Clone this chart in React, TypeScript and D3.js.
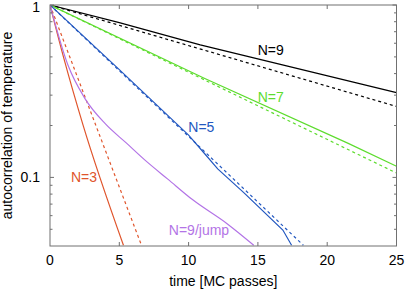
import React from "react";
import * as d3 from "d3";

// ---- data (x: MC passes, y: autocorrelation) ----
const n9Solid: [number, number][] = [[0, 1], [5, 0.79], [10.84, 0.587], [25, 0.31]];
const n9Dashed: [number, number][] = [[0, 1], [25, 0.258]];
const n7Solid: [number, number][] = [[0, 1], [11.13, 0.376], [21.48, 0.158], [25, 0.116]];
const n7Dashed: [number, number][] = [[0, 1], [25, 0.106]];
const n5Solid: [number, number][] = [[0, 1], [5, 0.422], [10, 0.176], [11.1, 0.139], [12.1, 0.112], [14, 0.0813], [16.8, 0.0495], [17.43, 0.0404]];
const n5Dashed: [number, number][] = [[0, 1], [18.28, 0.0404]];
const n3Solid: [number, number][] = [[0, 1], [1, 0.49], [2.38, 0.2018], [5.3, 0.0404]];
const n3Dashed: [number, number][] = [[0, 1], [6.6, 0.0404]];
const jump: [number, number][] = [[0, 1], [1.3, 0.4467], [2.5, 0.2884], [4, 0.2042], [5.5, 0.1585], [7, 0.123], [8.5, 0.0977], [10.3, 0.0741], [12.8, 0.0537], [14.7, 0.0404]];

const xTicks = [0, 5, 10, 15, 20, 25];
const yMajor = [1, 0.1];
const yMinor = [0.05, 0.06, 0.07, 0.08, 0.09, 0.2, 0.3, 0.4, 0.5, 0.6, 0.7, 0.8, 0.9];

const BLACK = "#000000";
const GREEN = "#5ddc2e";
const BLUE = "#2358c0";
const RED = "#e0552c";
const PURPLE = "#b374e6";

const series = [
  { d: n9Solid, c: BLACK, dash: false, smooth: false },
  { d: n9Dashed, c: BLACK, dash: true, smooth: false },
  { d: n7Solid, c: GREEN, dash: false, smooth: false },
  { d: n7Dashed, c: GREEN, dash: true, smooth: false },
  { d: n5Solid, c: BLUE, dash: false, smooth: false },
  { d: n5Dashed, c: BLUE, dash: true, smooth: false },
  { d: n3Solid, c: RED, dash: false, smooth: true },
  { d: n3Dashed, c: RED, dash: true, smooth: false },
  { d: jump, c: PURPLE, dash: false, smooth: true },
];

const labels = [
  { t: "N=9", x: 15.93, y: 0.548, c: BLACK },
  { t: "N=7", x: 15.93, y: 0.294, c: GREEN },
  { t: "N=5", x: 10.92, y: 0.196, c: BLUE },
  { t: "N=3", x: 2.45, y: 0.1, c: RED },
  { t: "N=9/jump", x: 10.75, y: 0.0495, c: PURPLE },
];

export default function App() {
  const W = 408, H = 290;
  const L = 50, R = 396.5, T = 5, B = 246;
  const x = d3.scaleLinear().domain([0, 25]).range([L, R]);
  const y = d3.scaleLog().domain([0.04, 1]).range([B, T]);
  const lineLin = d3
    .line<[number, number]>()
    .x((d) => x(d[0]))
    .y((d) => y(d[1]));
  const lineSmooth = d3
    .line<[number, number]>()
    .x((d) => x(d[0]))
    .y((d) => y(d[1]))
    .curve(d3.curveMonotoneX);
  const font = "'Liberation Sans', Arial, Helvetica, sans-serif";
  const axisColor = "#707070";
  return (
    <svg
      width={W}
      height={H}
      style={{ position: "absolute", left: 0, top: 0, background: "#fff" }}
      fontFamily={font}
    >
      <defs>
        <clipPath id="plot">
          <rect x={L} y={T} width={R - L} height={B - T} />
        </clipPath>
      </defs>
      <g clipPath="url(#plot)">
        {series.map((s, i) => (
          <path
            key={i}
            d={(s.smooth ? lineSmooth(s.d) : lineLin(s.d)) || ""}
            fill="none"
            stroke={s.c}
            strokeWidth={1.2}
            strokeDasharray={s.dash ? "3,3" : undefined}
          />
        ))}
      </g>
      {/* frame */}
      <rect x={L} y={T} width={R - L} height={B - T} fill="none" stroke={axisColor} strokeWidth={1} />
      {/* x ticks */}
      {xTicks.slice(1, -1).map((t) => (
        <g key={"xt" + t}>
          <line x1={x(t)} x2={x(t)} y1={B} y2={B - 4} stroke={axisColor} />
          <line x1={x(t)} x2={x(t)} y1={T} y2={T + 4} stroke={axisColor} />
        </g>
      ))}
      {/* y ticks */}
      {yMajor.map((t) => (
        <g key={"ym" + t}>
          <line x1={L} x2={L + 4} y1={y(t)} y2={y(t)} stroke={axisColor} />
          <line x1={R} x2={R - 4} y1={y(t)} y2={y(t)} stroke={axisColor} />
        </g>
      ))}
      {yMinor.map((t) => (
        <g key={"yn" + t}>
          <line x1={L} x2={L + 2.5} y1={y(t)} y2={y(t)} stroke={axisColor} />
          <line x1={R} x2={R - 2.5} y1={y(t)} y2={y(t)} stroke={axisColor} />
        </g>
      ))}
      {/* tick labels */}
      {xTicks.map((t) => (
        <text key={"xl" + t} x={x(t)} y={265} textAnchor="middle" fontSize={14} fill="#000">
          {t}
        </text>
      ))}
      {yMajor.map((t) => (
        <text key={"yl" + t} x={40} y={Math.max(y(t), 7.5)} dy="0.35em" textAnchor="end" fontSize={14} fill="#000">
          {t}
        </text>
      ))}
      {/* axis titles */}
      <text x={(L + R) / 2} y={286} textAnchor="middle" fontSize={14} fill="#000">
        time [MC passes]
      </text>
      <text
        transform={`translate(12, ${(T + B) / 2}) rotate(-90)`}
        textAnchor="middle"
        fontSize={14}
        fill="#000"
      >
        autocorrelation of temperature
      </text>
      {/* curve labels */}
      {labels.map((l) => (
        <text
          key={l.t}
          x={x(l.x)}
          y={y(l.y)}
          dy="0.35em"
          textAnchor="middle"
          fontSize={14}
          fill={l.c}
        >
          {l.t}
        </text>
      ))}
    </svg>
  );
}
